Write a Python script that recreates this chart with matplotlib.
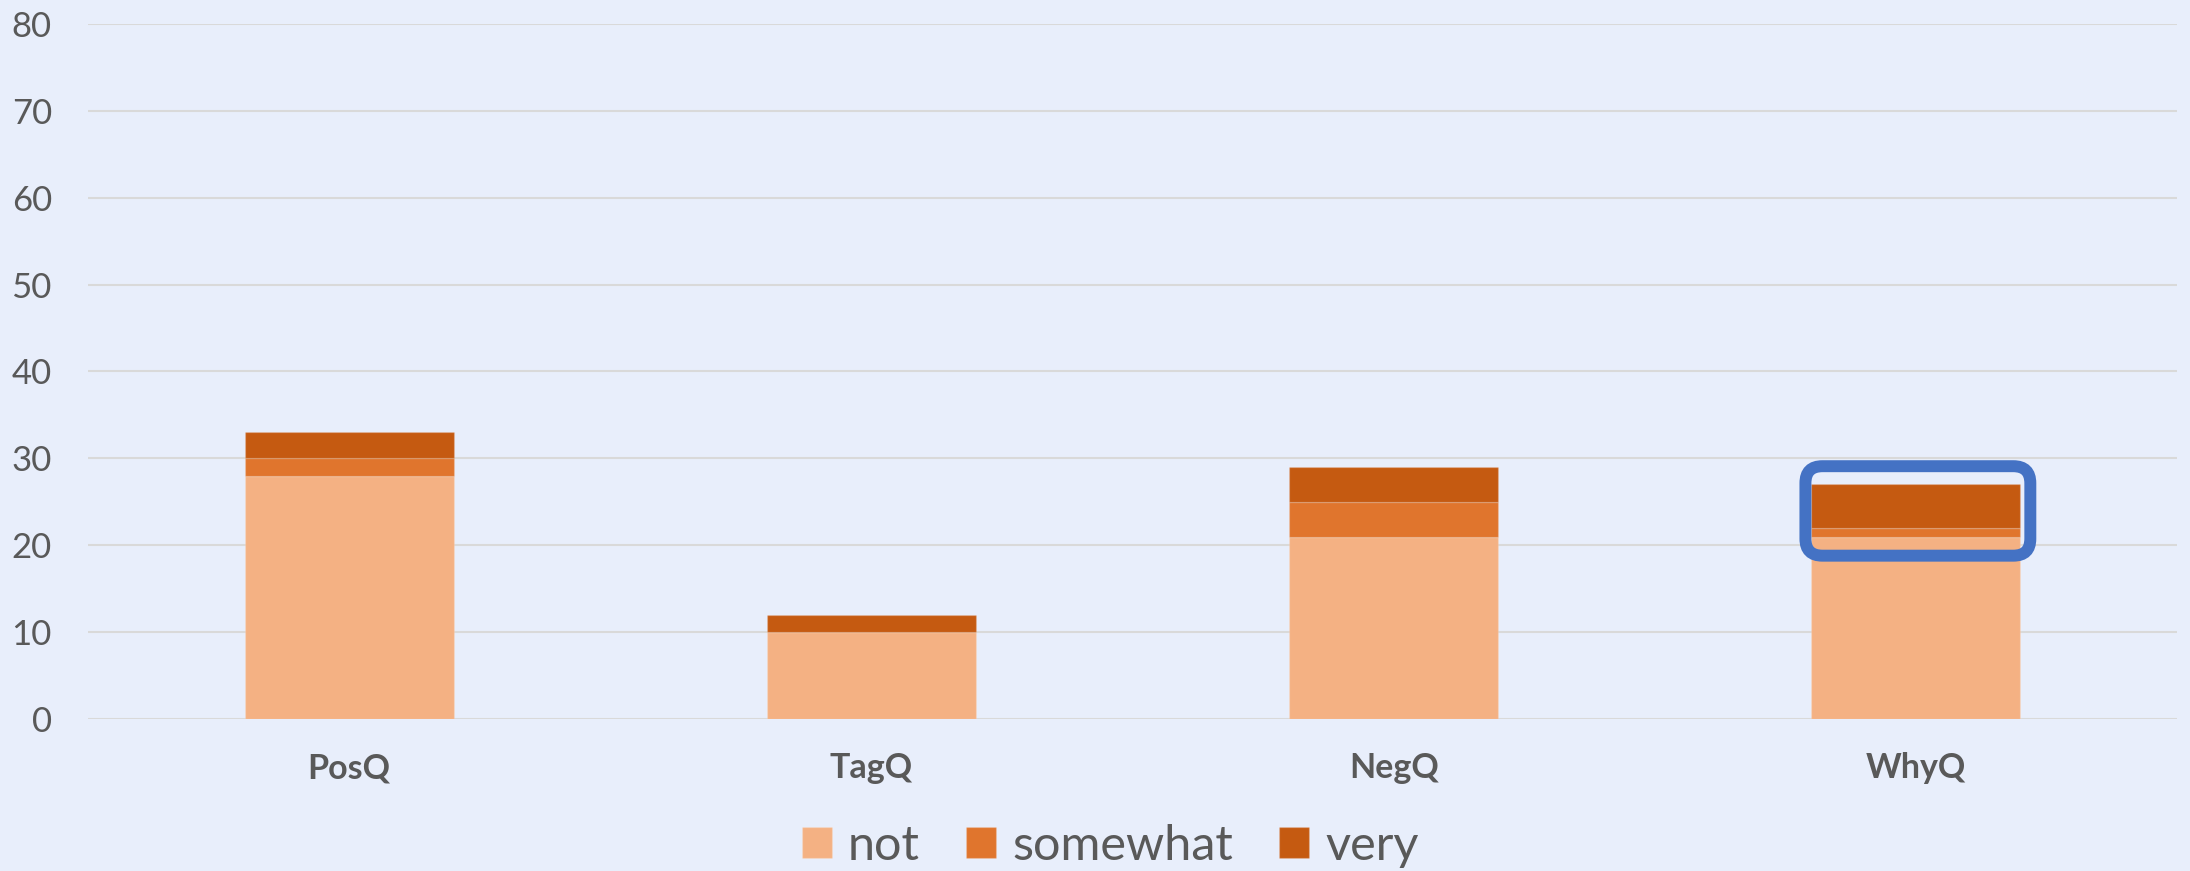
import matplotlib
matplotlib.use("Agg")
import matplotlib.pyplot as plt
import numpy as np
from matplotlib.patches import FancyBboxPatch
from matplotlib.transforms import IdentityTransform

categories = ["PosQ", "TagQ", "NegQ", "WhyQ"]
not_vals = [28, 10, 21, 21]
somewhat_vals = [2, 0, 4, 1]
very_vals = [3, 2, 4, 5]
series_names = ["not", "somewhat", "very"]
colors = ["#F4B183", "#E0752D", "#C55A11"]
y_ticks = [0, 10, 20, 30, 40, 50, 60, 70, 80]
highlight_cat = "WhyQ"
highlight_range = (18.8, 29.1)

plt.rcParams['font.family'] = ['Lato', 'DejaVu Sans']
text_color = "#595959"
bg = "#E8EEFB"

fig = plt.figure(figsize=(21.9, 8.71), dpi=100, facecolor=bg)
ax = fig.add_axes([88/2190, 152/871, (2177-88)/2190, (847-152)/871])
ax.set_facecolor(bg)

x = np.arange(len(categories))
bottom = np.zeros(len(categories))
handles = []
for name, vals, c in zip(series_names, [not_vals, somewhat_vals, very_vals], colors):
    vals = np.array(vals, dtype=float)
    b = ax.bar(x, vals, 0.4, bottom=bottom, color=c, label=name,
               edgecolor=(1, 1, 1, 0.15), linewidth=1, zorder=3)
    handles.append(b)
    bottom += vals

ax.set_xlim(-0.5, len(categories) - 0.5)
ax.set_ylim(0, 80)
ax.set_yticks(y_ticks)
ax.set_yticklabels([str(t) for t in y_ticks], fontsize=25, color=text_color)
ax.set_xticks(x)
ax.set_xticklabels(categories, fontsize=24.5, fontweight='bold', color=text_color)
ax.tick_params(axis='y', length=0, pad=26)
ax.tick_params(axis='x', length=0, pad=24)
ax.grid(axis='y', color='#D9D9D9', linewidth=1.5, zorder=0)
ax.set_axisbelow(True)
for s in ax.spines.values():
    s.set_visible(False)

leg = fig.legend(handles=handles, labels=series_names, loc='center',
                 bbox_to_anchor=(0.507, 0.029), ncol=3, frameon=False,
                 fontsize=35, handlelength=0.62, handleheight=0.62,
                 handletextpad=0.33, columnspacing=0.95,
                 labelcolor=text_color)

# highlight rounded box around WhyQ
fig.canvas.draw()
i = categories.index(highlight_cat)
x0, y0 = ax.transData.transform((i - 0.2, highlight_range[0]))
x1, y1 = ax.transData.transform((i + 0.2, highlight_range[1]))
x0 -= 6
x1 += 10
box = FancyBboxPatch((x0, y0), x1 - x0, y1 - y0,
                     boxstyle="round,pad=0,rounding_size=17",
                     transform=IdentityTransform(), fill=False,
                     edgecolor="#4472C4", linewidth=8.6, zorder=5)
fig.patches.append(box)
box.set_figure(fig)

fig.savefig("out.png", dpi=100, facecolor=bg)
